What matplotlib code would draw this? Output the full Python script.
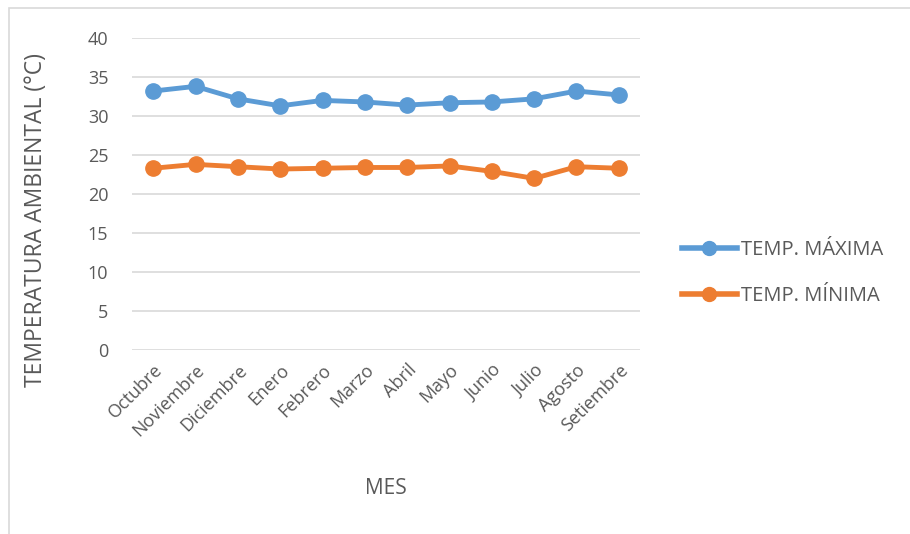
import matplotlib.pyplot as plt
from matplotlib.patches import Rectangle
from matplotlib.lines import Line2D

meses = ["Octubre", "Noviembre", "Diciembre", "Enero", "Febrero", "Marzo",
         "Abril", "Mayo", "Junio", "Julio", "Agosto", "Setiembre"]
temp_max = [33.2, 33.8, 32.2, 31.3, 32.0, 31.8, 31.4, 31.7, 31.8, 32.2, 33.2, 32.7]
temp_min = [23.3, 23.8, 23.5, 23.2, 23.3, 23.4, 23.4, 23.6, 22.9, 22.0, 23.5, 23.3]

azul = "#5B9BD5"
naranja = "#ED7D31"
gris = "#595959"

plt.rcParams["font.family"] = ["Open Sans", "DejaVu Sans"]

fig = plt.figure(figsize=(9.1, 5.34), dpi=100)
ax = fig.add_axes([132 / 910, 1 - 350 / 534, 508 / 910, 312 / 534])

x = list(range(len(meses)))
ax.plot(x, temp_max, color=azul, lw=3.5, marker="o", ms=11, label="TEMP. MÁXIMA")
ax.plot(x, temp_min, color=naranja, lw=3.5, marker="o", ms=11, label="TEMP. MÍNIMA")

ax.set_xlim(-0.5, len(meses) - 0.5)
ax.set_ylim(0, 40)
ax.set_yticks(range(0, 45, 5))
ax.set_xticks(x)
ax.set_xticklabels(meses, rotation=45, ha="right", rotation_mode="anchor")
ax.tick_params(axis="both", length=0, labelsize=13, colors=gris)
ax.tick_params(axis="y", pad=17)
ax.tick_params(axis="x", pad=8)
ax.grid(axis="y", color="#D9D9D9", lw=1.2)
ax.set_axisbelow(True)
for s in ax.spines.values():
    s.set_visible(False)

ax.set_ylabel("TEMPERATURA AMBIENTAL (°C)", fontsize=16.5, color=gris)
ax.yaxis.set_label_coords(-0.165, 0.417)
fig.text(386 / 910, 1 - 488 / 534, "MES", fontsize=15, color=gris, ha="center", va="center")

handles = [Line2D([0], [0], color=azul, lw=4, marker="o", ms=10),
           Line2D([0], [0], color=naranja, lw=4, marker="o", ms=10)]
fig.legend(handles, ["TEMP. MÁXIMA", "TEMP. MÍNIMA"], loc="center left",
           bbox_to_anchor=(664 / 910, 1 - 273 / 534), frameon=False, fontsize=14.5,
           labelcolor=gris, handlelength=2.7, handletextpad=0.2, labelspacing=1.3)

fig.patches.append(Rectangle((9 / 910, -0.1), 1.2, 1.1 - 8 / 534,
                             transform=fig.transFigure, fill=False,
                             edgecolor="#D9D9D9", lw=1.2))

fig.savefig("out.png", dpi=100, facecolor="white")
